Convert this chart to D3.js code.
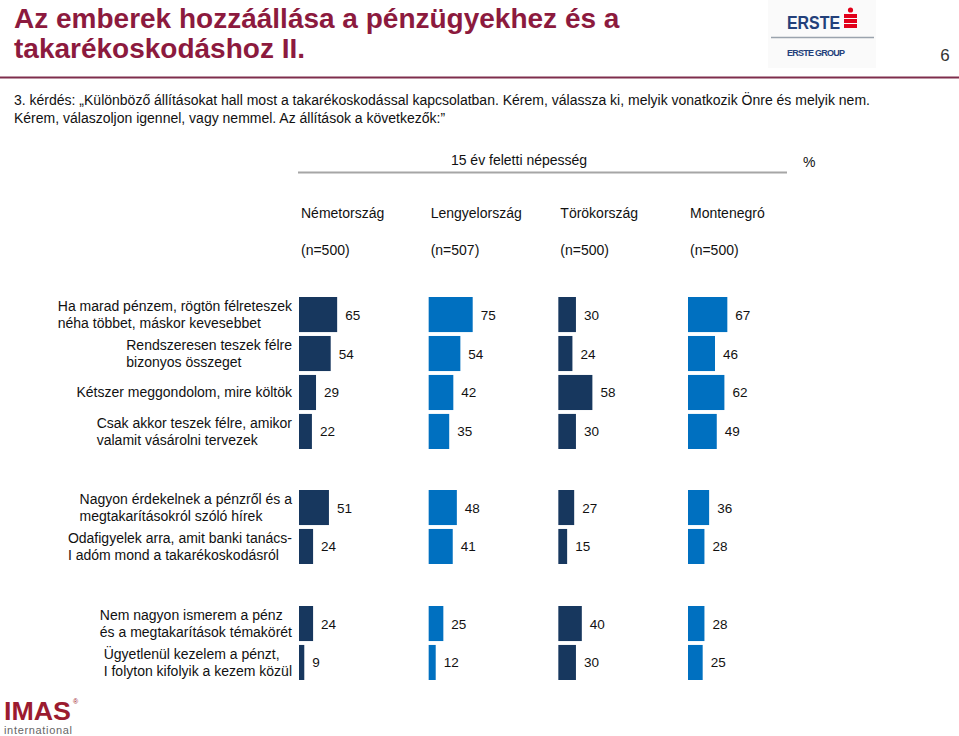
<!DOCTYPE html>
<html><head><meta charset="utf-8">
<script src="https://cdn.jsdelivr.net/npm/d3@7"></script>
<style>
body{margin:0;background:#fff;}
svg{display:block;font-family:"Liberation Sans",Arial,sans-serif;}
</style></head>
<body>
<svg id="c" width="959" height="736"></svg>
<script>
const titleLines = ["Az emberek hozzáállása a pénzügyekhez és a", "takarékoskodáshoz II."];
const questionLines = ["3. kérdés: „Különböző állításokat hall most a takarékoskodással kapcsolatban. Kérem, válassza ki, melyik vonatkozik Önre és melyik nem.",
  "Kérem, válaszoljon igennel, vagy nemmel. Az állítások a következők:”"];
const baseLabel = "15 év feletti népesség";
const countries = ["Németország", "Lengyelország", "Törökország", "Montenegró"];
const sampleSizes = ["(n=500)", "(n=507)", "(n=500)", "(n=500)"];

const group1Labels = ["Ha marad pénzem, rögtön félreteszek\nnéha többet, máskor kevesebbet",
  "Rendszeresen teszek félre\nbizonyos összeget",
  "Kétszer meggondolom, mire költök",
  "Csak akkor teszek félre, amikor\nvalamit vásárolni tervezek"];
const group1Values = [[65, 54, 29, 22], [75, 54, 42, 35], [30, 24, 58, 30], [67, 46, 62, 49]];

const group2Labels = ["Nagyon érdekelnek a pénzről és a\nmegtakarításokról szóló hírek",
  "Odafigyelek arra, amit banki tanács-\nI adóm mond a takarékoskodásról"];
const group2Values = [[51, 24], [48, 41], [27, 15], [36, 28]];

const group3Labels = ["Nem nagyon ismerem a pénz\nés a megtakarítások témakörét",
  "Ügyetlenül kezelem a pénzt,\nI folyton kifolyik a kezem közül"];
const group3Values = [[24, 9], [25, 12], [40, 30], [28, 25]];

const colors = ["#17375E", "#0070C0", "#17375E", "#0070C0"];

const svg = d3.select("#c");

// Title
svg.append("text").attr("font-size", 28).attr("font-weight", "bold").attr("fill", "#8C1A3E")
  .selectAll("tspan").data(titleLines).join("tspan")
  .attr("x", 14).attr("y", (d, i) => 28 + i * 30).text(d => d);

svg.append("line").attr("x1", 0).attr("x2", 959).attr("y1", 77.5).attr("y2", 77.5)
  .attr("stroke", "#7E2E4C").attr("stroke-width", 2);

// page number
svg.append("text").attr("x", 945).attr("y", 61).attr("font-size", 17).attr("text-anchor", "middle")
  .attr("fill", "#333").text("6");

// ERSTE logo
const logo = svg.append("g");
logo.append("rect").attr("x", 768).attr("y", 0).attr("width", 108).attr("height", 68).attr("fill", "#fafafa");
logo.append("text").attr("x", 787).attr("y", 29).attr("font-size", 19).attr("font-weight", "bold")
  .attr("fill", "#23407A").attr("textLength", 53).attr("lengthAdjust", "spacingAndGlyphs").text("ERSTE");
logo.append("rect").attr("x", 844).attr("y", 14).attr("width", 13).attr("height", 4).attr("fill", "#E2001A");
logo.append("rect").attr("x", 844).attr("y", 19).attr("width", 13).attr("height", 4).attr("fill", "#E2001A");
logo.append("rect").attr("x", 844).attr("y", 24).attr("width", 13).attr("height", 4).attr("fill", "#E2001A");
logo.append("circle").attr("cx", 850.5).attr("cy", 10).attr("r", 2.6).attr("fill", "#E2001A");
logo.append("line").attr("x1", 771).attr("x2", 874).attr("y1", 37.5).attr("y2", 37.5).attr("stroke", "#9aa3ad").attr("stroke-width", 1.5);
logo.append("text").attr("x", 787).attr("y", 56).attr("font-size", 9).attr("font-weight", "bold")
  .attr("fill", "#23407A").attr("textLength", 58).text("ERSTE GROUP");

// question
svg.append("g").selectAll("text").data(questionLines).join("text")
  .attr("x", 14).attr("y", (d, i) => 105 + i * 18).attr("font-size", 14).attr("fill", "#111")
  .text(d => d);

// header
svg.append("text").attr("x", 519).attr("y", 165).attr("font-size", 14).attr("text-anchor", "middle")
  .attr("fill", "#111").text(baseLabel);
svg.append("line").attr("x1", 298).attr("x2", 787).attr("y1", 172.5).attr("y2", 172.5)
  .attr("stroke", "#A6A6A6").attr("stroke-width", 2);
svg.append("text").attr("x", 803).attr("y", 167).attr("font-size", 14).attr("fill", "#111").text("%");

const xCol = d3.scalePoint().domain(countries).range([299, 688]);
const xLen = d3.scaleLinear().domain([0, 100]).range([0, 58.7]);

svg.append("g").selectAll("text").data(countries).join("text")
  .attr("x", d => xCol(d) + 2).attr("y", 218).attr("font-size", 14).attr("fill", "#111").text(d => d);
svg.append("g").selectAll("text").data(sampleSizes).join("text")
  .attr("x", (d, i) => xCol(countries[i]) + 2).attr("y", 255).attr("font-size", 14).attr("fill", "#111").text(d => d);

function drawGroup(labels, values, y0, y1) {
  const y = d3.scaleBand().domain(labels).range([y0, y1]).paddingInner(0.1);
  const g = svg.append("g");
  countries.forEach((c, ci) => {
    const data = labels.map((l, li) => ({ l, v: values[ci][li] }));
    g.selectAll(null).data(data).join("rect")
      .attr("x", xCol(c)).attr("y", d => y(d.l)).attr("width", d => xLen(d.v))
      .attr("height", y.bandwidth()).attr("fill", colors[ci]);
    g.selectAll(null).data(data).join("text")
      .attr("x", d => xCol(c) + xLen(d.v) + 8).attr("y", d => y(d.l) + y.bandwidth() / 2 + 5)
      .attr("font-size", 13.5).attr("fill", "#111").text(d => d.v);
  });
  // category labels
  labels.forEach(l => {
    const lines = l.split("\n");
    const t = g.append("text").attr("font-size", 14).attr("fill", "#111");
    const cy = y(l) + y.bandwidth() / 2;
    const lh = 17.5;
    lines.forEach((s, i) => {
      t.append("tspan").attr("y", cy + (i - (lines.length - 1) / 2) * lh + 5).text(s);
    });
    let maxW = 0;
    t.selectAll("tspan").each(function () { maxW = Math.max(maxW, this.getComputedTextLength()); });
    t.selectAll("tspan").attr("x", 292 - maxW);
  });
}
drawGroup(group1Labels, group1Values, 297, 449);
drawGroup(group2Labels, group2Values, 490, 564);
drawGroup(group3Labels, group3Values, 606, 680);

// IMAS logo
svg.append("text").attr("x", 4).attr("y", 720).attr("font-size", 25).attr("font-weight", "bold")
  .attr("fill", "#9B1B30").attr("textLength", 67).attr("lengthAdjust", "spacingAndGlyphs").text("IMAS");
svg.append("text").attr("x", 73).attr("y", 704).attr("font-size", 7).attr("fill", "#9B1B30").text("®");
svg.append("text").attr("x", 4).attr("y", 734).attr("font-size", 11).attr("fill", "#666")
  .attr("textLength", 68).text("international");
</script>
</body></html>
